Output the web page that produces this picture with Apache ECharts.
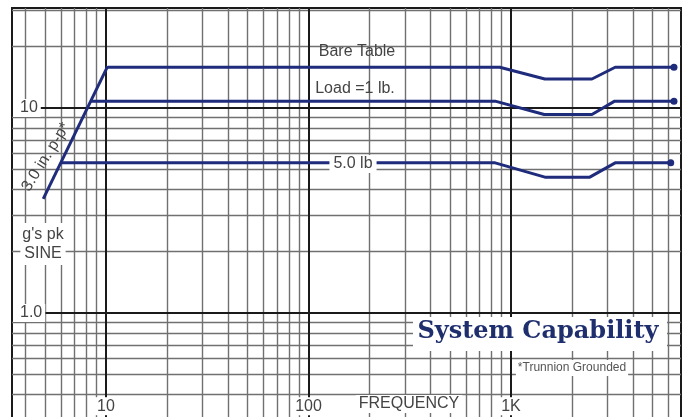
<!DOCTYPE html>
<html>
<head>
<meta charset="utf-8">
<script src="https://cdn.jsdelivr.net/npm/echarts@6/dist/echarts.min.js"></script>
<style>html,body{margin:0;padding:0;background:#fff}#c{width:687px;height:417px}</style>
</head>
<body>
<div id="c"></div>
<script>
// ---- data (Hz, g's pk) ----
var dispFreq = [4.9, 10.2];            // 3.0 in. p-p displacement limit
var dispG    = [3.6, 16.0];
var bareFreq = [10.2, 880, 1470, 2510, 3270, 6380];
var bareG    = [15.8, 15.8, 13.85, 13.85, 15.8, 15.8];
var load1Freq = [8.4, 835, 1460, 2510, 3250, 6380];
var load1G    = [10.8, 10.8, 9.3, 9.3, 10.8, 10.8];
var load5Freq = [5.95, 835, 1470, 2450, 3270, 6150];
var load5G    = [5.4, 5.4, 4.6, 4.6, 5.4, 5.4];
var xTickLabels = {10: '10', 100: '100', 1000: '1K'};
var yTickLabels = {1: '1.0', 10: '10'};
var xMajor = [10, 100, 1000];
var yMajor = [1, 10];
var decadeSteps = [2, 3, 4, 5, 6, 7, 8, 9];

var xMin = 3.435, xMax = 6911, yMin = 0.3, yMax = 30.75;

function pairs(f, g, endDot) {
  return f.map(function (v, i) {
    var d = {value: [v, g[i]]};
    if (endDot && i === f.length - 1) { d.symbol = 'circle'; d.symbolSize = 7; }
    return d;
  });
}
function minorValues(minV, maxV) {
  var out = [];
  for (var e = -2; e <= 4; e++) {
    decadeSteps.forEach(function (s) {
      var v = s * Math.pow(10, e);
      if (v > minV && v < maxV) out.push(v);
    });
  }
  return out;
}
var minorStyle = {color: '#707070', width: 1.4, type: 'solid'};
var majorStyle = {color: '#1a1a1a', width: 2, type: 'solid'};
var gridLines = [];
minorValues(xMin, xMax).forEach(function (v) { gridLines.push({xAxis: v, lineStyle: minorStyle}); });
minorValues(yMin, yMax).forEach(function (v) { gridLines.push({yAxis: v, lineStyle: minorStyle}); });
xMajor.forEach(function (v) { gridLines.push({xAxis: v, lineStyle: majorStyle}); });
yMajor.forEach(function (v) { gridLines.push({yAxis: v, lineStyle: majorStyle}); });

var lineColor = '#1f2b7b';
var lineStyle = {color: lineColor, width: 3};
function dataSeries(name, f, g, endDot) {
  return {
    name: name, type: 'line', data: pairs(f, g, endDot), symbol: 'none', showSymbol: true,
    lineStyle: lineStyle, itemStyle: {color: lineColor}, z: 5, animation: false, silent: true
  };
}
var fontFam = '"Liberation Sans", Arial, sans-serif';
var labelFont = '16px ' + fontFam;
var textColor = '#444';
function tickFormatter(map) {
  return function (v) {
    var r = Math.round(v);
    return (Math.abs(v - r) < 1e-6 && map[r]) ? '{t|' + map[r] + '}' : '';
  };
}
var xRich = {t: {color: textColor, fontSize: 16, fontFamily: fontFam, backgroundColor: '#fff', padding: [1, 3]}};
var yRich = {t: {color: textColor, fontSize: 16, fontFamily: fontFam, backgroundColor: '#fff', padding: [1, 3, 1, 7]}};

var chart = echarts.init(document.getElementById('c'), null, {renderer: 'canvas'});
chart.setOption({
  animation: false,
  backgroundColor: '#fff',
  grid: {left: 12, right: 6, top: 8, bottom: -3.2, containLabel: false, outerBoundsMode: 'none',
         show: true, borderColor: '#1a1a1a', borderWidth: 2, backgroundColor: '#fff'},
  xAxis: {
    type: 'log', logBase: 10, min: xMin, max: xMax, z: 10,
    axisLine: {show: false}, axisTick: {show: false}, splitLine: {show: false}, minorSplitLine: {show: false},
    axisLabel: {inside: true, margin: 5, showMinLabel: true, showMaxLabel: true, rich: xRich, formatter: tickFormatter(xTickLabels)}
  },
  yAxis: {
    type: 'log', logBase: 10, min: yMin, max: yMax, z: 10,
    axisLine: {show: false}, axisTick: {show: false}, splitLine: {show: false}, minorSplitLine: {show: false},
    axisLabel: {inside: true, margin: 1, rich: yRich, formatter: tickFormatter(yTickLabels)}
  },
  series: [
    {type: 'line', data: [], silent: true, z: 1, animation: false,
     markLine: {silent: true, symbol: ['none', 'none'], label: {show: false}, animation: false, data: gridLines}},
    dataSeries('3.0 in. p-p', dispFreq, dispG, false),
    dataSeries('Bare Table', bareFreq, bareG, true),
    dataSeries('Load =1 lb.', load1Freq, load1G, true),
    dataSeries('5.0 lb', load5Freq, load5G, true)
  ],
  graphic: [
    {type: 'text', z: 100, style: {text: 'Bare Table', x: 357, y: 52, align: 'center', verticalAlign: 'middle', font: labelFont, fill: textColor}},
    {type: 'text', z: 100, style: {text: 'Load =1 lb.', x: 355, y: 89, align: 'center', verticalAlign: 'middle', font: labelFont, fill: textColor}},
    {type: 'text', z: 100, style: {text: '5.0 lb', x: 353, y: 164, align: 'center', verticalAlign: 'middle', font: labelFont, fill: textColor, backgroundColor: '#fff', padding: [1, 4]}},
    {type: 'text', z: 100, x: 46, y: 157, rotation: 58 * Math.PI / 180,
     style: {text: '3.0 in. p-p*', x: 0, y: 0, align: 'center', verticalAlign: 'middle', font: labelFont, fill: textColor}},
    {type: 'text', z: 100, style: {text: "g's pk\nSINE", x: 43, y: 244, align: 'center', verticalAlign: 'middle', font: labelFont, lineHeight: 19, fill: textColor, backgroundColor: '#fff', padding: [2, 2]}},
    {type: 'rect', z: 99, shape: {x: 413, y: 317, width: 254, height: 34}, style: {fill: '#fff'}},
    {type: 'text', z: 100, style: {text: 'System Capability', x: 538, y: 332, align: 'center', verticalAlign: 'middle', font: 'bold 24px "DejaVu Serif", serif', fill: '#1f2f6e'}},
    {type: 'text', z: 100, style: {text: '*Trunnion Grounded', x: 572, y: 368, align: 'center', verticalAlign: 'middle', font: '12px ' + fontFam, fill: '#555', backgroundColor: '#fff', padding: [2, 2]}},
    {type: 'text', z: 100, style: {text: 'FREQUENCY', x: 409, y: 404, align: 'center', verticalAlign: 'middle', font: labelFont, fill: textColor, backgroundColor: '#fff', padding: [1, 3]}}
  ]
});
</script>
</body>
</html>
